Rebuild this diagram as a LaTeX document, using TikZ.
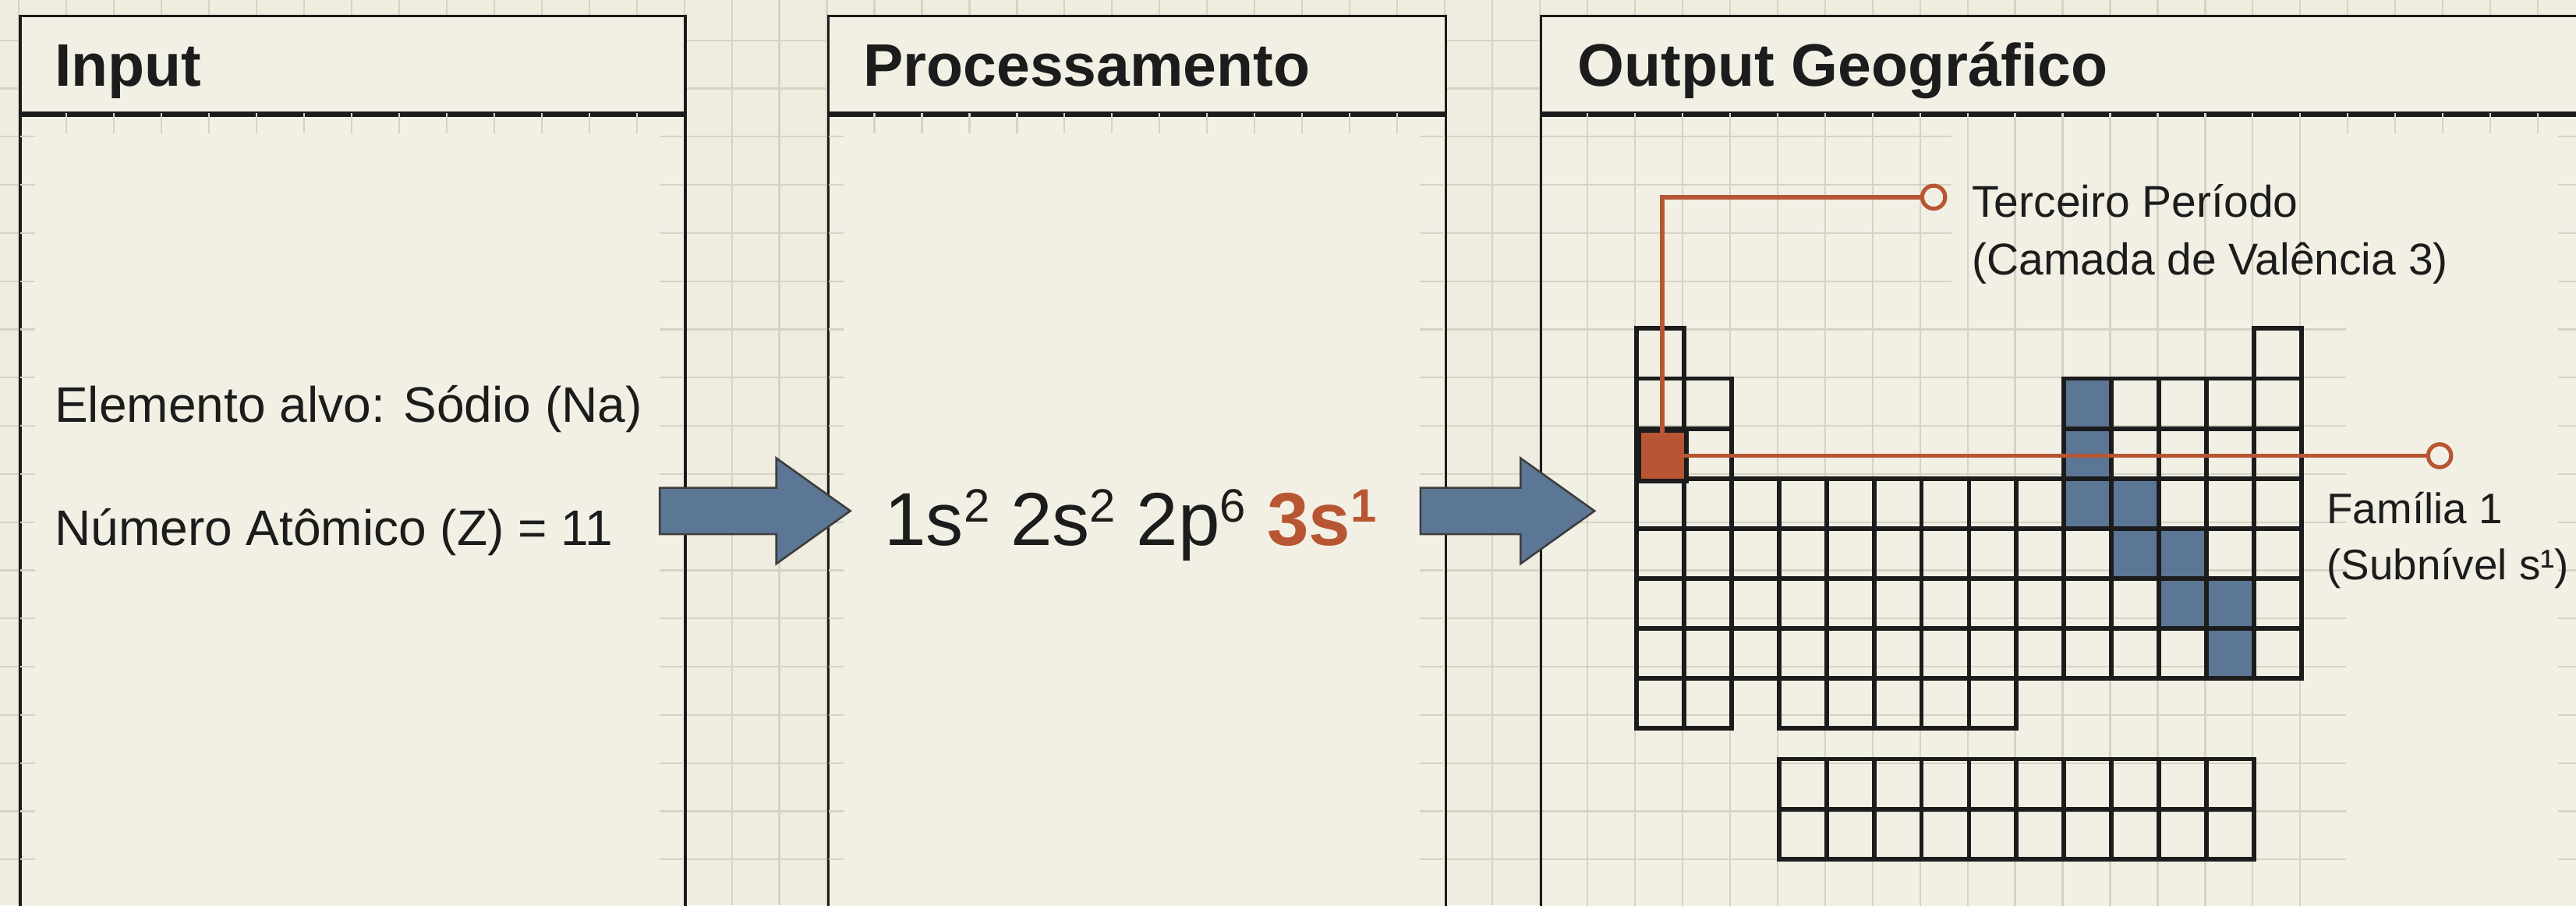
\documentclass[tikz,border=0pt]{standalone}
\usepackage{fontspec}
\setmainfont{Liberation Sans}
\usepackage{xcolor}
\usepackage{tikz}
\usetikzlibrary{positioning,shapes.arrows,calc}
\definecolor{paperCream}{RGB}{239,237,223}
\definecolor{panelCream}{RGB}{242,240,229}
\definecolor{gridBeige}{RGB}{214,211,197}
\definecolor{inkBlack}{RGB}{28,28,28}
\definecolor{slateBlue}{RGB}{92,118,149}
\definecolor{rustOrange}{RGB}{184,86,52}

\newcommand{\upidx}[1]{\raisebox{8pt}{\fontsize{16.2}{16.2}\selectfont #1}}
\newcommand{\pcol}[1]{996+(#1-1)*28.93}
\newcommand{\prow}[1]{200+(#1-1)*30.4}

\begin{document}
\begin{tikzpicture}[x=0.02cm,y=-0.02cm,
  panel/.style={draw=inkBlack,line width=0.9pt,fill=panelCream,anchor=north west,inner sep=0pt},
  ptitle/.style={anchor=base west,inner sep=0pt,text=inkBlack,font=\fontsize{20.8}{25}\selectfont\bfseries},
  body/.style={anchor=base west,inner sep=0pt,text=inkBlack,font=\fontsize{17.3}{21}\selectfont},
  flow/.style={single arrow,anchor=tail,draw=inkBlack!85,fill=slateBlue,line width=0.7pt,inner xsep=0pt,inner ysep=0.27cm,single arrow head extend=0.36cm,single arrow tip angle=71},
  cell/.style={draw=inkBlack,line width=1.6pt},
  leader/.style={draw=rustOrange,line width=1.5pt},
  pin/.style={circle,draw=rustOrange,fill=panelCream,line width=1.4pt,inner sep=0pt,minimum size=0.28cm},
  note/.style={anchor=north west,inner sep=0pt,align=left,text=inkBlack,font=\fontsize{15.4}{20}\selectfont},
  tick/.style={draw=gridBeige,line width=0.6pt}
]
\useasboundingbox (0,0) rectangle (1568,551);
\clip (0,0) rectangle (1568,551);
\fill[paperCream] (0,0) rectangle (1568,551);

% graph paper
\foreach \i in {0,...,54}
  \draw[tick] ({11.5+28.93*\i},0) -- ++(0,551);
\foreach \j in {0,...,18}
  \draw[tick] (0,{24.5+29.33*\j}) -- ++(1568,0);

% panels
\node[panel,minimum width=8.1cm,minimum height=1.18cm] (inHead) at (11.5,9) {};
\node[panel,minimum width=8.1cm,minimum height=10cm] (inBody) at (inHead.south west) {};
\node[panel,minimum width=7.522cm,minimum height=1.18cm] (procHead) at (503.3,9) {};
\node[panel,minimum width=7.522cm,minimum height=10cm] (procBody) at (procHead.south west) {};
\node[panel,minimum width=13.5cm,minimum height=1.18cm] (outHead) at (937.3,9) {};
\node[panel,minimum width=13.5cm,minimum height=10cm] (outBody) at (outHead.south west) {};

% faded grid marks at the panel edges
\foreach \i in {1,...,13,18,19,...,29,49,50,...,54}
  \draw[tick] ({11.5+28.93*\i},69) -- ++(0,12);
\foreach \j in {2,...,18} {
  \draw[tick] (12.5,{24.5+29.33*\j}) -- ++(9,0);
  \draw[tick] (415.5,{24.5+29.33*\j}) -- ++(-14,0);
  \draw[tick] (504.3,{24.5+29.33*\j}) -- ++(9,0);
  \draw[tick] (878.4,{24.5+29.33*\j}) -- ++(-14,0);
  \draw[tick] (1568,{24.5+29.33*\j}) -- ++(-11,0);
}

% grid behind the table
\begin{scope}
  \clip (938.5,69) rectangle (1430,551);
  \foreach \i in {33,...,48}
    \draw[tick] ({11.5+28.93*\i},69) -- ++(0,490);
  \foreach \j in {2,...,5}
    \draw[tick] (938.5,{24.5+29.33*\j}) -- (1188,{24.5+29.33*\j});
  \foreach \j in {6,...,18}
    \draw[tick] (938.5,{24.5+29.33*\j}) -- (1428,{24.5+29.33*\j});
\end{scope}

% titles
\node[ptitle] (inTitle) at (33,52.5) {Input};
\node[ptitle] (procTitle) at (525,52.5) {Processamento};
\node[ptitle] (outTitle) at (960,52.5) {Output Geográfico};

% input
\node[body] (elemLine) at (33,257) {Elemento alvo: Sódio (Na)};
\node[body] (zLine) at (33,332) {Número Atômico (Z) = 11};

% configuration
\node[anchor=base west,inner sep=0pt,text=inkBlack,font=\fontsize{26}{30}\selectfont] (config) at (538,332)
  {1s\upidx{2} 2s\upidx{2} 2p\upidx{6} \textcolor{rustOrange}{\bfseries 3s\upidx{1}}};

% flow arrows
\node[flow,minimum height=2.32cm] (toProc) at (401,311) {};
\node[flow,minimum height=2.12cm] (toOut) at (864,311) {};

% periodic table
\foreach \r/\c in {2/10,3/10,4/10,4/11,5/11,5/12,6/12,6/13,7/13}
  \fill[slateBlue] ({\pcol{\c}},{\prow{\r}}) rectangle ++(28.93,30.4);
\foreach \r/\a/\b in {1/1/1,1/14/14,2/1/2,2/10/14,3/1/2,3/10/14,4/1/14,5/1/14,6/1/14,7/1/14,8/1/2,8/4/8}
  \foreach \c in {\a,...,\b}
    \draw[cell] ({\pcol{\c}},{\prow{\r}}) rectangle ++(28.93,30.4);
\foreach \r in {0,1}
  \foreach \c in {4,...,13}
    \draw[cell] ({\pcol{\c}},{462+\r*30.4}) rectangle ++(28.93,30.4);
\node[cell,fill=rustOrange,anchor=north west,inner sep=0pt,minimum width=0.5786cm,minimum height=0.608cm] (na) at ({\pcol{1}},{\prow{3}}) {};

% leaders
\coordinate (famAt) at (1485,0);
\node[pin] (perPin) at (1177,120) {};
\node[pin] (famPin) at (na.center -| famAt) {};
\draw[leader] (na.center) |- (perPin);
\draw[leader] (na.center) -- (famPin);
\node[note] (perNote) at (1200,112) {Terceiro Período\\(Camada de Valência 3)};
\node[note,font=\fontsize{14.8}{19.5}\selectfont] (famNote) at (1416,299) {Família 1\\(Subnível s¹)};
\end{tikzpicture}
\end{document}
